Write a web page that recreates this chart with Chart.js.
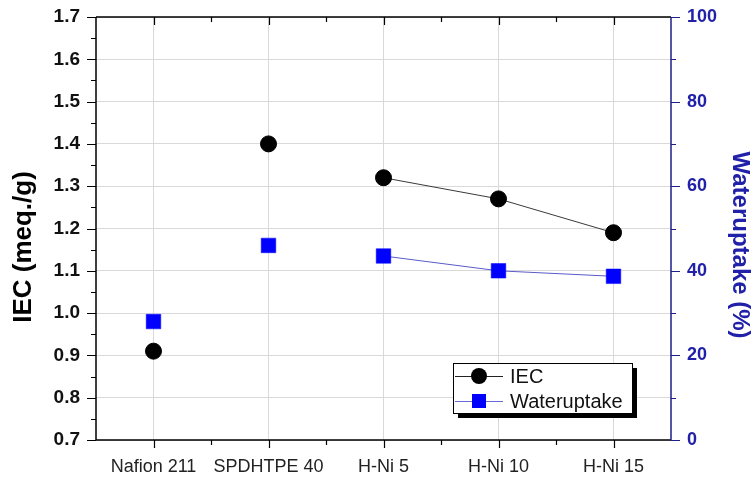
<!DOCTYPE html>
<html>
<head>
<meta charset="utf-8">
<script src="https://cdn.jsdelivr.net/npm/chart.js"></script>
<style>
  html, body { margin: 0; padding: 0; background: #fff; }
  canvas { display: block; }
</style>
</head>
<body>
<canvas id="c" width="755" height="481"></canvas>
<script>
// Membrane samples
const categories = ['Nafion 211', 'SPDHTPE 40', 'H-Ni 5', 'H-Ni 10', 'H-Ni 15'];
// Ion exchange capacity, meq./g
const iecValues = [0.91, 1.40, 1.32, 1.27, 1.19];
// Water uptake, %
const waterUptake = [28.0, 46.0, 43.5, 40.0, 38.7];
// Axis ranges and steps
const iecRange = [0.7, 1.7];
const iecStep = 0.1;
const waterRange = [0, 100];
const waterStep = 20;

const FONT = 'Arial, "Liberation Sans", Helvetica, sans-serif';
const NAVY = '#1e1e8c';
const BLUE_TEXT = '#2020a8';

// Plot area edges on the canvas
const AREA = { left: 96, right: 671, top: 17, bottom: 440 };

// Only the H-Ni series is joined by a line
const joinFrom = 2;
const seg = color => ctx => (ctx.p0DataIndex < joinFrom ? 'rgba(0,0,0,0)' : color);

const frame = {
  id: 'frame',
  beforeDatasetsDraw(chart) {
    const { ctx, chartArea: a, scales } = chart;
    const { x, y, y1 } = scales;
    ctx.save();
    ctx.lineCap = 'butt';
    // black frame: left, bottom, top
    ctx.strokeStyle = '#000';
    ctx.lineWidth = 1.5;
    ctx.beginPath();
    ctx.moveTo(a.left, a.top); ctx.lineTo(a.left, a.bottom);
    ctx.moveTo(a.left, a.bottom); ctx.lineTo(a.right, a.bottom);
    ctx.moveTo(a.left, a.top); ctx.lineTo(a.right, a.top);
    ctx.stroke();

    // left axis ticks (major + minor) pointing out
    ctx.lineWidth = 1.2;
    ctx.beginPath();
    const nL = Math.round((iecRange[1] - iecRange[0]) / (iecStep / 2));
    for (let i = 0; i <= nL; i++) {
      const py = Math.round(y.getPixelForValue(iecRange[0] + i * iecStep / 2)) + 0.5;
      const len = i % 2 === 0 ? 9 : 5;
      ctx.moveTo(a.left - len, py); ctx.lineTo(a.left, py);
    }
    // bottom ticks (down) and top ticks (inward)
    for (let i = 0; i < categories.length; i++) {
      const px = Math.round(x.getPixelForValue(i)) + 0.5;
      ctx.moveTo(px, a.bottom); ctx.lineTo(px, a.bottom + 8);
      ctx.moveTo(px, a.top); ctx.lineTo(px, a.top + 8);
      if (i < categories.length - 1) {
        const mx = Math.round((x.getPixelForValue(i) + x.getPixelForValue(i + 1)) / 2) + 0.5;
        ctx.moveTo(mx, a.bottom); ctx.lineTo(mx, a.bottom + 5);
        ctx.moveTo(mx, a.top); ctx.lineTo(mx, a.top + 5);
      }
    }
    ctx.stroke();

    // right axis in navy
    ctx.strokeStyle = NAVY;
    ctx.lineWidth = 1.5;
    ctx.beginPath();
    ctx.moveTo(a.right, a.top); ctx.lineTo(a.right, a.bottom);
    ctx.stroke();
    ctx.lineWidth = 1.2;
    ctx.beginPath();
    const nR = Math.round((waterRange[1] - waterRange[0]) / (waterStep / 2));
    for (let i = 0; i <= nR; i++) {
      const py = Math.round(y1.getPixelForValue(waterRange[0] + i * waterStep / 2)) + 0.5;
      const len = i % 2 === 0 ? 9 : 5;
      ctx.moveTo(a.right, py); ctx.lineTo(a.right + len, py);
    }
    ctx.stroke();
    ctx.restore();
  },
  afterDraw(chart) {
    const { ctx } = chart;
    ctx.save();
    // axis titles
    ctx.textAlign = 'center';
    ctx.textBaseline = 'middle';
    ctx.fillStyle = '#000';
    ctx.font = 'bold 26px ' + FONT;
    ctx.translate(24, 247);
    ctx.rotate(-Math.PI / 2);
    ctx.fillText('IEC (meq./g)', 0, 0);
    ctx.setTransform(1, 0, 0, 1, 0, 0);
    ctx.fillStyle = BLUE_TEXT;
    ctx.font = 'bold 24px ' + FONT;
    ctx.translate(740, 245);
    ctx.rotate(Math.PI / 2);
    ctx.fillText('Wateruptake (%)', 0, 0);
    ctx.setTransform(1, 0, 0, 1, 0, 0);

    // legend box with drop shadow
    const bx = 453, by = 363, bw = 179, bh = 50;
    ctx.fillStyle = '#000';
    ctx.fillRect(bx + 5, by + 5, bw, bh);
    ctx.fillStyle = '#fff';
    ctx.fillRect(bx, by, bw, bh);
    ctx.strokeStyle = '#000';
    ctx.lineWidth = 1;
    ctx.strokeRect(bx + 0.5, by + 0.5, bw, bh);

    chart.data.datasets.forEach((ds, i) => {
      const ry = by + 13 + i * 25;
      ctx.strokeStyle = ds.legendLine;
      ctx.lineWidth = 1;
      ctx.beginPath();
      ctx.moveTo(bx + 2, ry + 0.5); ctx.lineTo(bx + 50, ry + 0.5);
      ctx.stroke();
      ctx.fillStyle = ds.pointBackgroundColor;
      if (ds.pointStyle === 'rect') {
        ctx.fillRect(bx + 26 - 7, ry - 7, 14, 14);
      } else {
        ctx.beginPath();
        ctx.arc(bx + 26, ry, 8, 0, Math.PI * 2);
        ctx.fill();
      }
      ctx.fillStyle = '#111';
      ctx.font = '20px ' + FONT;
      ctx.textAlign = 'left';
      ctx.textBaseline = 'middle';
      ctx.fillText(ds.label, bx + 57, ry + 1);
    });
    ctx.restore();
  }
};

// Pin the plot area to fixed canvas coordinates
const pinArea = {
  id: 'pinArea',
  afterLayout(chart) {
    const a = chart.chartArea;
    Object.assign(a, AREA);
    a.width = AREA.right - AREA.left;
    a.height = AREA.bottom - AREA.top;
    const { x, y, y1 } = chart.scales;
    [y, y1].forEach(s => { s.top = AREA.top; s.bottom = AREA.bottom; s.height = a.height; });
    y.left = 0; y.right = AREA.left; y.width = AREA.left;
    y1.left = AREA.right; y1.right = chart.width; y1.width = chart.width - AREA.right;
    x.left = AREA.left; x.right = AREA.right; x.width = a.width;
    x.top = AREA.bottom; x.bottom = chart.height; x.height = chart.height - AREA.bottom;
    [x, y, y1].forEach(s => s.configure());
  }
};

new Chart(document.getElementById('c'), {
  type: 'line',
  data: {
    labels: categories,
    datasets: [
      {
        label: 'IEC',
        data: iecValues,
        yAxisID: 'y',
        borderWidth: 1,
        borderColor: '#3a3a3a',
        legendLine: '#222',
        segment: { borderColor: seg('#3a3a3a') },
        pointStyle: 'circle',
        pointRadius: 8,
        pointBorderWidth: 1,
        pointBackgroundColor: '#000',
        pointBorderColor: '#000',
        fill: false,
        tension: 0
      },
      {
        label: 'Wateruptake',
        data: waterUptake,
        yAxisID: 'y1',
        borderWidth: 1,
        borderColor: '#5a5ac8',
        legendLine: '#6a6ad0',
        segment: { borderColor: seg('#5a5ac8') },
        pointStyle: 'rect',
        pointRadius: 10.3,
        pointBorderWidth: 0.5,
        pointBackgroundColor: '#0000ff',
        pointBorderColor: '#0000ff',
        fill: false,
        tension: 0
      }
    ]
  },
  options: {
    responsive: false,
    animation: false,
    devicePixelRatio: 1,
    layout: { padding: 0 },
    plugins: { legend: { display: false }, tooltip: { enabled: false } },
    scales: {
      x: {
        type: 'category',
        offset: true,
        grid: { offset: false, color: '#d9d9d9', lineWidth: 1, drawTicks: false },
        border: { display: false },
        ticks: {
          autoSkip: false, maxRotation: 0, minRotation: 0, padding: 16,
          color: '#222', font: { family: FONT, size: 18 }
        }
      },
      y: {
        position: 'left',
        min: iecRange[0], max: iecRange[1],
        grid: { color: '#d9d9d9', lineWidth: 1, drawTicks: false },
        border: { display: false },
        ticks: {
          stepSize: iecStep, padding: 16, color: '#111',
          font: { family: FONT, size: 19, weight: 'bold' },
          callback: v => Number(v).toFixed(1)
        }
      },
      y1: {
        position: 'right',
        min: waterRange[0], max: waterRange[1],
        grid: { display: false, drawTicks: false },
        border: { display: false },
        ticks: {
          stepSize: waterStep, padding: 16, color: BLUE_TEXT,
          font: { family: FONT, size: 18, weight: 'bold' }
        }
      }
    }
  },
  plugins: [pinArea, frame]
});
</script>
</body>
</html>
